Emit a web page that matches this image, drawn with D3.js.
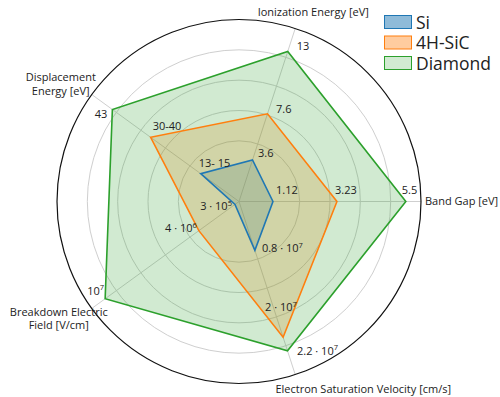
<!DOCTYPE html>
<html><head><meta charset="utf-8">
<script src="https://cdn.jsdelivr.net/npm/d3@7"></script>
<style>
body{margin:0;background:#fff}
svg{display:block}
text{font-family:"Open Sans",sans-serif;fill:#222}
</style>
</head><body><svg id="c" width="500" height="397"></svg>
<script>
// ---- data ----
const axisNames = [["Band Gap [eV]"], ["Ionization Energy [eV]"], ["Displacement", "Energy [eV]"], ["Breakdown Electric", "Field [V/cm]"], ["Electron Saturation Velocity [cm/s]"]];
const axisMax = [6, 15, 50, 1.1e7, 2.55e7];
const seriesNames = ["Si", "4H-SiC", "Diamond"];
const siValues = [1.12, 3.6, 13, 3e5, 0.72e7];
const sicValues = [3.23, 7.6, 30, 3e6, 2e7];
const diamondValues = [5.5, 13, 43, 1e7, 2.2e7];
const siLabels = [["1.12"], ["3.6"], ["13- 15"], ["3 · 10", "5"], ["0.8 · 10", "7"]];
const sicLabels = [["3.23"], ["7.6"], ["30-40"], ["4 · 10", "6"], ["2 · 10", "7"]];
const diamondLabels = [["5.5"], ["13"], ["43"], ["10", "7"], ["2.2 · 10", "7"]];
const ringFractions = [2/6, 3/6, 4/6, 5/6];

// ---- layout / style ----
const colors = ["#1f77b4", "#ff7f0e", "#2ca02c"];
const legendAlpha = [0.5, 0.4, 0.22];
const cx = 239, cy = 201.5, R = 182;
const labelOffsets = [
  [[3,-8,"start"],[5.5,-3,"start"],[-2,-7,"start"],[-3,6,"end"],[7,2,"start"]],
  [[-2,-8,"start"],[8.5,-1,"start"],[2,-7,"start"],[-2,1.5,"end"],[-18,-26,"start"]],
  [[-4,-8,"start"],[9,-1.5,"start"],[-5,8.5,"end"],[-1,-4,"end"],[9.5,4,"start"]]
];
const axisLabelLayout = [[4,3.5,"start"],[18,-12,"middle"],[-31,-13.5,"middle"],[-33,7.5,"middle"],[68,18.5,"middle"]];

const svg = d3.select("#c");
const g = svg.append("g");
const n = axisNames.length;
const angle = i => i * 2 * Math.PI / n;
const scales = axisMax.map(m => d3.scaleLinear().domain([0, m]).range([0, R]));
const rNorm = d3.scaleLinear().domain([0, 1]).range([0, R]);
const pt = (i, r) => [cx + r * Math.cos(angle(i)), cy - r * Math.sin(angle(i))];

// grid rings
g.selectAll("circle.ring").data(ringFractions).join("circle")
  .attr("cx", cx).attr("cy", cy).attr("r", d => rNorm(d))
  .attr("fill", "none").attr("stroke", "#cfcfcf").attr("stroke-width", 1);
// spokes
g.selectAll("line.spoke").data(d3.range(n)).join("line")
  .attr("x1", cx).attr("y1", cy)
  .attr("x2", i => pt(i, R)[0]).attr("y2", i => pt(i, R)[1])
  .attr("stroke", "#cfcfcf").attr("stroke-width", 1);

// series
const allValues = [siValues, sicValues, diamondValues];
const allLabels = [siLabels, sicLabels, diamondLabels];
const line = d3.line().curve(d3.curveLinearClosed);
const polys = allValues.map(vals => vals.map((v, i) => pt(i, scales[i](v))));
polys.forEach((pts, s) => {
  g.append("path").attr("d", line(pts)).attr("fill", colors[s]).attr("fill-opacity", 0.22).attr("stroke", "none");
});
polys.forEach((pts, s) => {
  g.append("path").attr("d", line(pts)).attr("fill", "none")
    .attr("stroke", colors[s]).attr("stroke-width", 1.6).attr("stroke-linejoin", "miter");
});

// outer circle
g.append("circle").attr("cx", cx).attr("cy", cy).attr("r", R)
  .attr("fill", "none").attr("stroke", "#111").attr("stroke-width", 1.2);

// value labels
allValues.forEach((vals, s) => {
  vals.forEach((v, i) => {
    const [x, y] = pt(i, scales[i](v));
    const [dx, dy, anchor] = labelOffsets[s][i];
    const lab = allLabels[s][i];
    const t = g.append("text").attr("x", x + dx).attr("y", y + dy)
      .attr("text-anchor", anchor).attr("font-size", 11);
    t.append("tspan").text(lab[0]);
    if (lab[1]) t.append("tspan").attr("font-size", 7.5).attr("dy", -4.5).text(lab[1]);
  });
});

// axis labels
axisNames.forEach((lines, i) => {
  const [x, y] = pt(i, R);
  const [dx, dy, anchor] = axisLabelLayout[i];
  const t = g.append("text").attr("text-anchor", anchor).attr("font-size", 11);
  lines.forEach((l, k) => t.append("tspan").attr("x", x + dx).attr("y", y + dy + k * 13.5).text(l));
});

// legend
const lg = svg.append("g").attr("transform", "translate(384,15)");
seriesNames.forEach((name, s) => {
  const row = lg.append("g").attr("transform", `translate(0,${s * 20.5})`);
  row.append("rect").attr("x", 0.5).attr("y", 0.5).attr("width", 27).attr("height", 13)
    .attr("fill", colors[s]).attr("fill-opacity", legendAlpha[s])
    .attr("stroke", colors[s]).attr("stroke-width", 1);
  row.append("text").attr("x", 32).attr("y", 13.5).attr("font-size", 17.5).text(name);
});
</script>
</body></html>
